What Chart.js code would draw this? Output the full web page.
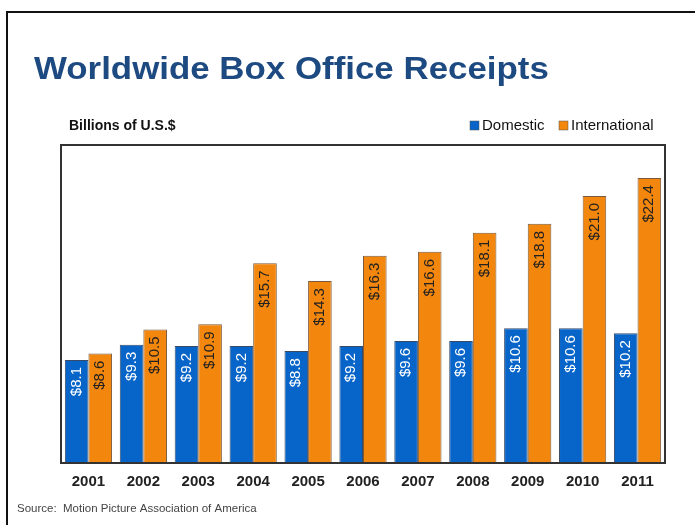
<!DOCTYPE html>
<html>
<head>
<meta charset="utf-8">
<script src="https://cdn.jsdelivr.net/npm/chart.js@4"></script>
<style>
  html, body { margin: 0; padding: 0; background: #fff; }
  #wrap { position: relative; width: 695px; height: 525px; overflow: hidden; }
  #frame { position: absolute; left: 6px; top: 11px; width: 720px; height: 540px; border-left: 2px solid #111; border-top: 2px solid #111; }
  canvas { position: absolute; left: 0; top: 0; }
</style>
</head>
<body>
<div id="wrap">
  <div id="frame"></div>
  <canvas id="c" width="695" height="525"></canvas>
</div>
<script>
const years = ['2001','2002','2003','2004','2005','2006','2007','2008','2009','2010','2011'];
const domestic = [8.1, 9.3, 9.2, 9.2, 8.8, 9.2, 9.6, 9.6, 10.6, 10.6, 10.2];
const international = [8.6, 10.5, 10.9, 15.7, 14.3, 16.3, 16.6, 18.1, 18.8, 21.0, 22.4];
const seriesNames = ['Domestic', 'International'];
const titleText = 'Worldwide Box Office Receipts';
const unitText = 'Billions of U.S.$';
const sourceText = 'Source:  Motion Picture Association of America';

const FONT = '"Liberation Sans", Arial, sans-serif';
const colors = ['#0764C8', '#F3860C'];
const borders = ['#3a4a66', '#7a5a3a'];
const labelColors = ['#ffffff', '#222222'];

const decor = {
  id: 'decor',
  afterDraw(chart) {
    const ctx = chart.ctx;
    const a = chart.chartArea;
    ctx.save();
    // plot frame
    ctx.strokeStyle = '#333';
    ctx.lineWidth = 2;
    ctx.strokeRect(a.left, a.top, a.right - a.left, a.bottom - a.top);

    // value labels
    chart.data.datasets.forEach((ds, di) => {
      const meta = chart.getDatasetMeta(di);
      meta.data.forEach((bar, i) => {
        const v = ds.data[i];
        ctx.save();
        ctx.translate(bar.x, bar.y + 7);
        ctx.rotate(-Math.PI / 2);
        ctx.font = '15px ' + FONT;
        ctx.fillStyle = labelColors[di];
        ctx.textAlign = 'right';
        ctx.textBaseline = 'middle';
        ctx.fillText('$' + v.toFixed(1), 0, 0);
        ctx.restore();
      });
    });

    // title
    ctx.save();
    ctx.fillStyle = '#1E4A82';
    ctx.font = 'bold 31px ' + FONT;
    ctx.textBaseline = 'alphabetic';
    ctx.translate(34, 79);
    ctx.scale(1.125, 1);
    ctx.fillText(titleText, 0, 0);
    ctx.restore();

    // unit label
    ctx.fillStyle = '#111';
    ctx.font = 'bold 14px ' + FONT;
    ctx.textBaseline = 'middle';
    ctx.textAlign = 'left';
    ctx.fillText(unitText, 69, 126);

    // legend
    ctx.font = '15px ' + FONT;
    const legendItems = [{x: 470}, {x: 559}];
    chart.data.datasets.forEach((ds, di) => {
      const x = legendItems[di].x;
      ctx.fillStyle = ds.backgroundColor;
      ctx.fillRect(x, 121, 9, 9);
      ctx.strokeStyle = '#555';
      ctx.lineWidth = 0.5;
      ctx.strokeRect(x, 121, 9, 9);
      ctx.fillStyle = '#111';
      ctx.fillText(ds.label, x + 12, 126);
    });

    // source
    ctx.fillStyle = '#444';
    ctx.font = '11.5px ' + FONT;
    ctx.fillText(sourceText, 17, 509);
    ctx.restore();
  }
};

new Chart(document.getElementById('c'), {
  type: 'bar',
  data: {
    labels: years,
    datasets: [
      { label: seriesNames[0], data: domestic, backgroundColor: colors[0], borderColor: borders[0], borderWidth: 1 },
      { label: seriesNames[1], data: international, backgroundColor: colors[1], borderColor: borders[1], borderWidth: 1 }
    ]
  },
  options: {
    responsive: false,
    animation: false,
    devicePixelRatio: 1,
    layout: { padding: { left: 61, right: 30, top: 145, bottom: 24 } },
    plugins: { legend: { display: false }, tooltip: { enabled: false }, title: { display: false } },
    datasets: { bar: { barPercentage: 1.0, categoryPercentage: 0.86 } },
    scales: {
      x: {
        grid: { display: false, drawTicks: false },
        border: { display: false },
        ticks: { color: '#222', font: { family: FONT, size: 15, weight: 'bold' }, padding: 10, maxRotation: 0 }
      },
      y: {
        display: false,
        min: 0,
        max: 25
      }
    }
  },
  plugins: [decor]
});
</script>
</body>
</html>
